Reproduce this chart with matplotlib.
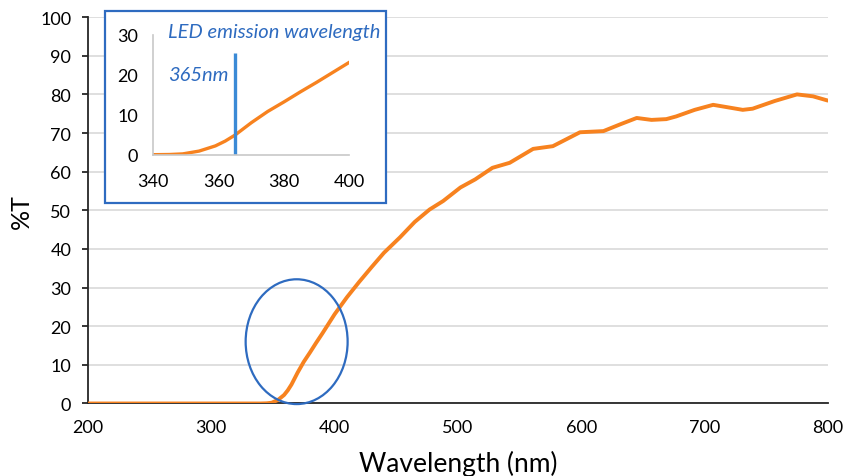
import matplotlib.pyplot as plt
from matplotlib.patches import Ellipse, Rectangle

### Data ###

wavelength = [200, 300, 330, 340, 345, 349, 354, 359, 362, 365, 370, 375, 380,
              385, 390, 395, 400, 410, 420, 430, 440, 453, 465, 477, 488, 502,
              514, 528, 542, 561, 577, 599, 618, 632, 645, 657, 669, 677, 692,
              707, 720, 731, 739, 757, 775, 788, 800]
transmission = [0, 0, 0, 0, 0.05, 0.2, 0.9, 2.2, 3.4, 4.9, 8.0, 10.8, 13.2,
                15.7, 18.1, 20.6, 23.1, 27.5, 31.5, 35.3, 39.0, 43.0, 47.0, 50.2,
                52.4, 55.9, 58.0, 61.0, 62.3, 65.9, 66.6, 70.2, 70.5, 72.3, 73.9,
                73.4, 73.6, 74.3, 76.0, 77.3, 76.6, 76.0, 76.3, 78.3, 80.0, 79.5,
                78.4]

x_ticks = [200, 300, 400, 500, 600, 700, 800]
y_ticks = list(range(0, 101, 10))
inset_x_ticks = [340, 360, 380, 400]
inset_y_ticks = [0, 10, 20, 30]
led_wavelength = 365
led_marker_top = 25.3

orange = '#f7821f'
blue = '#2e6bc0'

plt.rcParams['font.family'] = ['Lato', 'DejaVu Sans']

### Main plot ###

fig = plt.figure(figsize=(8.43, 4.77), dpi=100)
ax = fig.add_axes([0.1044, 0.152, 0.8776, 0.810])

ax.plot(wavelength, transmission, color=orange, lw=2.8, zorder=3,
        solid_capstyle='round')
ax.set_xlim(200, 800)
ax.set_ylim(0, 100)
ax.set_xticks(x_ticks)
ax.set_yticks(y_ticks)
ax.grid(axis='y', color='#d9d9d9', lw=1.2)
ax.set_axisbelow(True)
for side in ['top', 'right']:
    ax.spines[side].set_visible(False)
for side in ['left', 'bottom']:
    ax.spines[side].set_color('#262626')
    ax.spines[side].set_linewidth(1.3)
ax.tick_params(axis='y', length=4, width=1.3, color='#262626',
               labelsize=13, pad=8)
ax.tick_params(axis='x', length=0, labelsize=13, pad=11)
ax.set_xlabel('Wavelength (nm)', fontsize=19, labelpad=11)
ax.set_ylabel('%T', fontsize=18, labelpad=5)

# Circle around the absorption edge
ax.add_patch(Ellipse((369.2, 16), 82.7, 32.3, fill=False, edgecolor=blue,
                     lw=1.6, zorder=4, clip_on=False))

### Inset ###

fig.add_artist(Rectangle((0.1246, 0.5723), 0.3333, 0.4025,
                         transform=fig.transFigure, facecolor='white',
                         edgecolor=blue, lw=1.6, zorder=5))

ax_in = fig.add_axes([0.1819, 0.6736, 0.2325, 0.2516])
ax_in.set_zorder(6)
ax_in.patch.set_alpha(0)
ax_in.plot(wavelength, transmission, color=orange, lw=2.4)
ax_in.vlines(led_wavelength, 0, led_marker_top, color='#3b8ad6', lw=2.4)
ax_in.set_xlim(340, 400)
ax_in.set_ylim(0, 30)
ax_in.set_xticks(inset_x_ticks)
ax_in.set_yticks(inset_y_ticks)
for side in ['top', 'right']:
    ax_in.spines[side].set_visible(False)
for side in ['left', 'bottom']:
    ax_in.spines[side].set_color('#c8c8c8')
    ax_in.spines[side].set_linewidth(1.2)
ax_in.tick_params(axis='x', length=0, labelsize=13, pad=13)
ax_in.tick_params(axis='y', length=0, labelsize=13, pad=11)

ax_in.text(344.5, 30.8, 'LED emission wavelength', color=blue, style='italic',
           fontsize=14.5, va='center', ha='left')
ax_in.text(344.5, 20.0, '365nm', color=blue, style='italic', fontsize=14.5,
           va='center', ha='left')

fig.savefig('out.png', dpi=100)
